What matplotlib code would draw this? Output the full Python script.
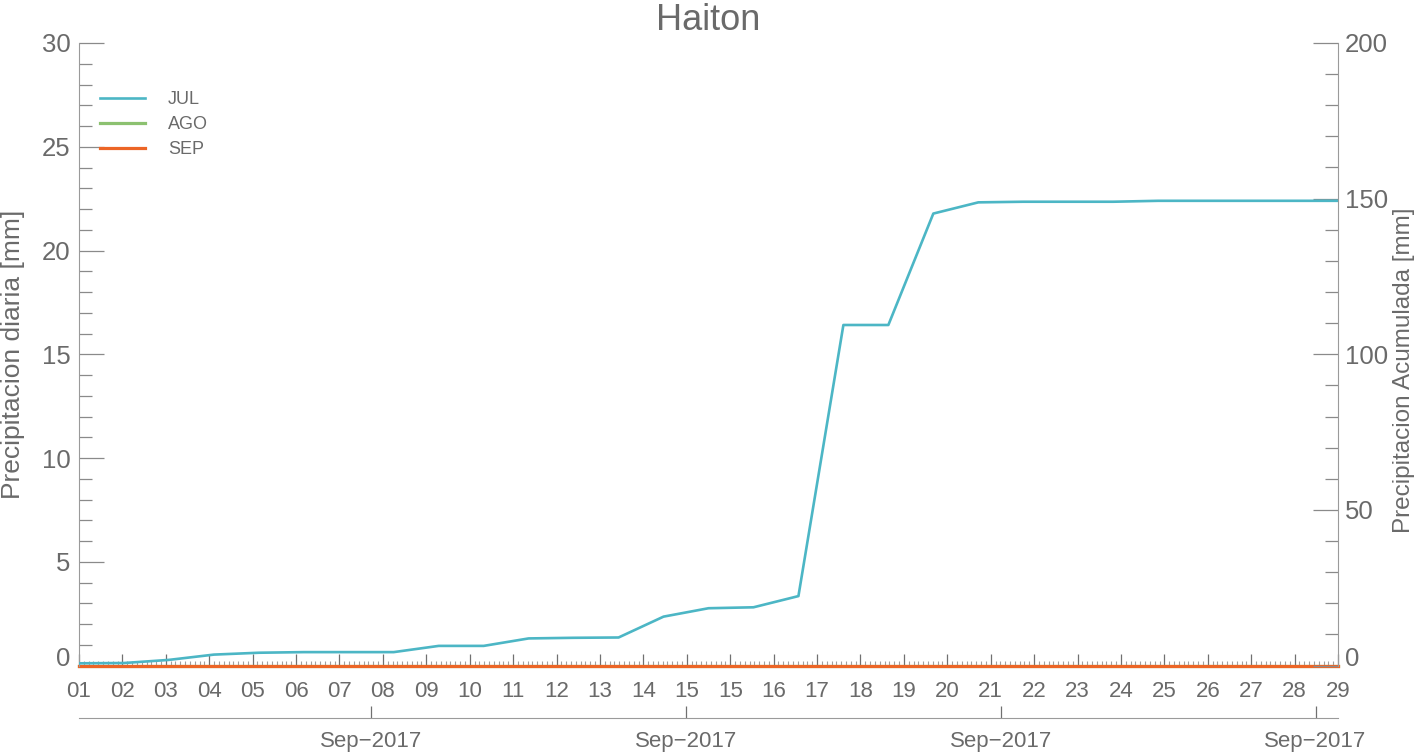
import numpy as np
import matplotlib
matplotlib.use("Agg")
import matplotlib.pyplot as plt

plt.rcParams['font.family'] = ['Liberation Sans', 'DejaVu Sans']

# datos (septiembre 2017, estacion Haiton)
dias = list(range(1, 30))
jul_acum = [0.7, 0.8, 1.8, 3.5, 4.1, 4.3, 4.3, 4.3, 6.3, 6.3, 8.7, 8.9, 9.0, 15.7,
            18.4, 18.7, 22.3, 109.4, 109.4, 145.2, 148.8, 149.0, 149.0, 149.0,
            149.3, 149.3, 149.3, 149.3, 149.3]
ago_diaria = [0.0] * 29
sep_diaria = [0.0] * 29
etiquetas_dia = ["01", "02", "03", "04", "05", "06", "07", "08", "09", "10",
                 "11", "12", "13", "14", "15", "15", "16", "17", "18", "19",
                 "20", "21", "22", "23", "24", "25", "26", "27", "28", "29"]
ticks_mes = [7.5, 14.5, 21.5, 28.5]
etiquetas_mes = ["Sep\u22122017"] * 4

c_jul = '#4cb6c5'
c_ago = '#8cc170'
c_sep = '#ec6526'
gris = '#6a6a6a'
gris_eje = '#9a9a9a'

fig = plt.figure(figsize=(14.2, 7.55), dpi=100)
ax = fig.add_axes([79/1420, 1 - 665.5/755, 1259/1420, 622.5/755])
ax2 = ax.twinx()

l_ago, = ax.plot(dias, ago_diaria, color=c_ago, lw=2.3, clip_on=False, label='AGO')
l_sep, = ax.plot(dias, sep_diaria, color=c_sep, lw=2.3, clip_on=False, label='SEP')
l_jul, = ax2.plot(dias, jul_acum, color=c_jul, lw=1.9, label='JUL')

ax.set_xlim(1, 29)
ax.set_ylim(0, 30)
ax2.set_ylim(0, 200)

ax.set_yticks(np.arange(0, 31, 5))
ax.set_yticks(np.arange(0, 31, 1), minor=True)
ax2.set_yticks(np.arange(0, 201, 50))
ax2.set_yticks(np.arange(0, 201, 10), minor=True)

ax.set_xticks(np.linspace(1, 29, 30))
ax.set_xticklabels(etiquetas_dia)
ax.set_xticks(np.linspace(1, 29, 29 * 9 + 1), minor=True)

for a in (ax, ax2):
    for s in ('top', 'bottom'):
        a.spines[s].set_visible(False)
    a.spines['left'].set_color(gris_eje)
    a.spines['right'].set_color(gris_eje)
ax.spines['right'].set_visible(False)
ax2.spines['left'].set_visible(False)

ax.tick_params(axis='y', which='major', direction='in', length=18, width=0.9,
               color='#8a8a8a', labelsize=18.5, labelcolor=gris, pad=6)
ax.tick_params(axis='y', which='minor', direction='in', length=9.4, width=0.9,
               color='#8a8a8a')
ax2.tick_params(axis='y', which='major', direction='in', length=18, width=0.9,
                color='#8a8a8a', labelsize=18.5, labelcolor=gris, pad=5)
ax2.tick_params(axis='y', which='minor', direction='in', length=9.4, width=0.9,
                color='#8a8a8a')
ax.tick_params(axis='x', which='major', direction='in', length=8.6, width=0.9,
               color='#707070', labelsize=16, labelcolor=gris, pad=11)
ax.tick_params(axis='x', which='minor', direction='in', length=3.6, width=0.8,
               color='#a0a0a0')

ax.get_yticklabels()[0].set_va('baseline')
ax2.get_yticklabels()[0].set_va('baseline')

# segundo eje de fechas
sec = ax.secondary_xaxis(-52.5/622.5)
sec.set_xticks(ticks_mes)
sec.set_xticklabels(etiquetas_mes)
sec.spines['bottom'].set_color(gris_eje)
sec.tick_params(axis='x', which='major', direction='in', length=8.6, width=0.9,
                color='#707070', labelsize=16, labelcolor=gris, pad=9)
sec.tick_params(axis='x', which='minor', bottom=False)

ax.set_ylabel('Precipitacion diaria [mm]', fontsize=19, color=gris)
ax2.set_ylabel('Precipitacion Acumulada [mm]', fontsize=17.5, color=gris)
ax.yaxis.set_label_coords(-0.043, 0.5)
ax2.yaxis.set_label_coords(1.044, 0.475)
ax.set_title('Haiton', fontsize=26, color=gris, pad=9)

leg = ax2.legend(handles=[l_jul, l_ago, l_sep], loc='upper left',
                 bbox_to_anchor=(21/1259, (665.5 - 91)/622.5), frameon=False,
                 fontsize=13, handlelength=2.5, handletextpad=1.25,
                 labelspacing=0.44, borderpad=0, borderaxespad=0)
for t in leg.get_texts():
    t.set_color(gris)

fig.savefig('out.png', dpi=100)
